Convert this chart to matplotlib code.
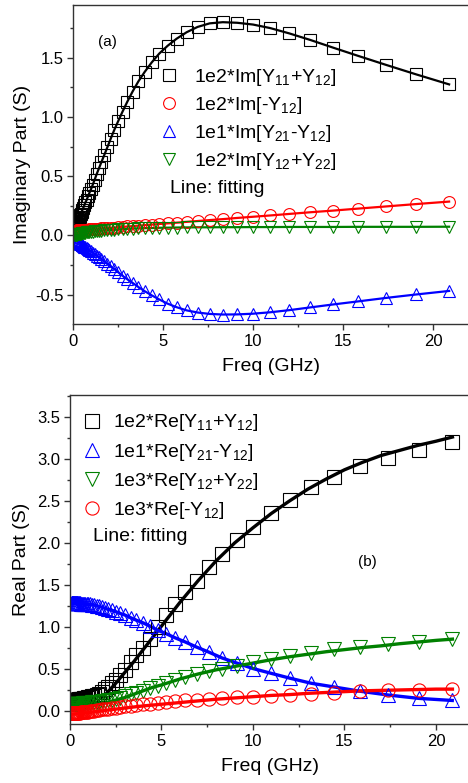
import matplotlib
matplotlib.use('Agg')
import matplotlib.pyplot as plt
from matplotlib.lines import Line2D
from matplotlib.ticker import MultipleLocator

plt.rcParams['font.family'] = ['Liberation Sans', 'DejaVu Sans']
plt.rcParams['mathtext.default'] = 'regular'
plt.rcParams['axes.unicode_minus'] = False

# ---------------- data ----------------
# measurement frequencies (GHz), log spaced
freq = [0.100, 0.110, 0.120, 0.132, 0.145, 0.158, 0.174, 0.191, 0.209, 0.229,
        0.251, 0.275, 0.302, 0.331, 0.363, 0.398, 0.437, 0.479, 0.525, 0.575,
        0.631, 0.692, 0.759, 0.832, 0.912,
        1.00, 1.10, 1.20, 1.32, 1.45, 1.58, 1.74, 1.91, 2.09, 2.29,
        2.51, 2.75, 3.02, 3.31, 3.63, 3.98, 4.37, 4.79, 5.25, 5.75,
        6.31, 6.92, 7.59, 8.32, 9.12,
        10.0, 10.96, 12.02, 13.18, 14.45, 15.85, 17.38, 19.05, 20.89]

# (a) imaginary parts
im_y11_y12 = [0.060, 0.060, 0.065, 0.070, 0.075, 0.080, 0.085, 0.090, 0.100, 0.105,
              0.115, 0.125, 0.135, 0.145, 0.160, 0.170, 0.185, 0.200, 0.215, 0.235,
              0.255, 0.280, 0.300, 0.330, 0.360,
              0.390, 0.430, 0.470, 0.520, 0.570, 0.620, 0.680, 0.745, 0.815, 0.890,
              0.965, 1.045, 1.130, 1.215, 1.300, 1.380, 1.460, 1.535, 1.600, 1.660,
              1.715, 1.760, 1.790, 1.800, 1.795,
              1.780, 1.750, 1.705, 1.650, 1.585, 1.515, 1.440, 1.360, 1.275]
im_neg_y12 = [0.041, 0.041, 0.041, 0.042, 0.042, 0.042, 0.042, 0.042, 0.042, 0.043,
              0.043, 0.043, 0.044, 0.044, 0.044, 0.045, 0.045, 0.046, 0.046, 0.047,
              0.047, 0.048, 0.049, 0.050, 0.051,
              0.052, 0.053, 0.054, 0.056, 0.057, 0.059, 0.061, 0.063, 0.065, 0.067,
              0.070, 0.072, 0.076, 0.079, 0.083, 0.087, 0.092, 0.097, 0.102, 0.108,
              0.115, 0.122, 0.130, 0.138, 0.148,
              0.158, 0.169, 0.182, 0.196, 0.210, 0.227, 0.245, 0.265, 0.286]
im_y21_y12 = [-0.040, -0.040, -0.041, -0.042, -0.043, -0.045, -0.046, -0.048, -0.050, -0.052,
              -0.054, -0.056, -0.059, -0.062, -0.065, -0.069, -0.073, -0.077, -0.082, -0.087,
              -0.093, -0.100, -0.107, -0.115, -0.124,
              -0.134, -0.145, -0.156, -0.170, -0.185, -0.200, -0.218, -0.238, -0.260, -0.283,
              -0.310, -0.340, -0.370, -0.400, -0.435, -0.470, -0.505, -0.540, -0.575, -0.605,
              -0.632, -0.650, -0.662, -0.667, -0.666,
              -0.660, -0.648, -0.630, -0.607, -0.582, -0.556, -0.527, -0.498, -0.468]
im_y12_y22 = [0.004, 0.004, 0.005, 0.005, 0.006, 0.006, 0.007, 0.007, 0.008, 0.009,
              0.010, 0.011, 0.012, 0.013, 0.014, 0.015, 0.016, 0.017, 0.019, 0.020,
              0.022, 0.024, 0.026, 0.028, 0.029,
              0.031, 0.033, 0.035, 0.037, 0.039, 0.041, 0.043, 0.045, 0.047, 0.049,
              0.051, 0.053, 0.056, 0.058, 0.060, 0.062, 0.063, 0.065, 0.066, 0.067,
              0.068, 0.069, 0.069, 0.070, 0.070,
              0.071, 0.071, 0.072, 0.072, 0.072, 0.073, 0.073, 0.073, 0.074]

# (b) real parts
re_y11_y12 = [0.130, 0.130, 0.130, 0.130, 0.130, 0.130, 0.130, 0.130, 0.130, 0.130,
              0.130, 0.130, 0.130, 0.131, 0.132, 0.133, 0.135, 0.137, 0.139, 0.141,
              0.144, 0.147, 0.150, 0.154, 0.158,
              0.163, 0.168, 0.175, 0.183, 0.193, 0.205, 0.230, 0.260, 0.290, 0.330,
              0.370, 0.430, 0.490, 0.580, 0.670, 0.750, 0.860, 1.000, 1.140, 1.270,
              1.410, 1.550, 1.710, 1.870, 2.030,
              2.190, 2.350, 2.510, 2.660, 2.790, 2.910, 3.010, 3.110, 3.200]
re_y21_y12 = [1.280, 1.280, 1.280, 1.280, 1.280, 1.280, 1.280, 1.280, 1.280, 1.280,
              1.280, 1.280, 1.280, 1.280, 1.280, 1.280, 1.279, 1.279, 1.279, 1.278,
              1.277, 1.276, 1.275, 1.274, 1.273,
              1.272, 1.270, 1.265, 1.260, 1.253, 1.245, 1.235, 1.222, 1.210, 1.198,
              1.180, 1.160, 1.140, 1.110, 1.080, 1.050, 1.010, 0.960, 0.920, 0.870,
              0.820, 0.760, 0.700, 0.630, 0.570,
              0.505, 0.450, 0.390, 0.330, 0.285, 0.235, 0.190, 0.150, 0.125]
re_y12_y22 = [0.080, 0.080, 0.080, 0.080, 0.080, 0.080, 0.080, 0.080, 0.080, 0.080,
              0.080, 0.081, 0.081, 0.081, 0.082, 0.082, 0.083, 0.084, 0.085, 0.086,
              0.087, 0.089, 0.090, 0.092, 0.094,
              0.096, 0.098, 0.101, 0.104, 0.107, 0.111, 0.116, 0.121, 0.127, 0.134,
              0.145, 0.160, 0.177, 0.197, 0.218, 0.240, 0.268, 0.297, 0.330, 0.367,
              0.400, 0.438, 0.470, 0.500, 0.530,
              0.585, 0.620, 0.655, 0.690, 0.735, 0.765, 0.800, 0.825, 0.860]
re_neg_y12 = [-0.020, -0.020, -0.020, -0.020, -0.020, -0.020, -0.020, -0.020, -0.020, -0.020,
              -0.020, -0.020, -0.020, -0.020, -0.020, -0.020, -0.020, -0.020, -0.019, -0.018,
              -0.017, -0.015, -0.013, -0.011, -0.009,
              -0.007, -0.004, 0.000, 0.004, 0.008, 0.013, 0.018, 0.023, 0.028, 0.034,
              0.040, 0.047, 0.054, 0.062, 0.070, 0.078, 0.087, 0.096, 0.105, 0.115,
              0.125, 0.135, 0.145, 0.155, 0.165,
              0.172, 0.182, 0.195, 0.207, 0.218, 0.240, 0.250, 0.255, 0.260]

# fitted curves for panel (b)
fit_freq = [0.0, 0.5, 1.0, 1.5, 1.8, 2.0, 2.5, 3.0, 3.5, 4.0, 4.5, 5.0, 5.5, 6.0, 6.5,
            7.0, 7.5, 8.0, 9.0, 10.0, 11.0, 12.0, 13.0, 14.0, 15.0, 16.0, 17.0,
            18.0, 19.0, 20.0, 20.9]
fit_y11_y12 = [None, None, None, None, 0.17, 0.21, 0.33, 0.46, 0.59, 0.73, 0.87, 1.01,
               1.15, 1.29, 1.42, 1.55, 1.67, 1.79, 2.00, 2.18, 2.35, 2.50, 2.64, 2.76,
               2.87, 2.96, 3.04, 3.10, 3.16, 3.21, 3.26]
fit_y12_y22 = [0.050, 0.055, 0.065, 0.080, 0.090, 0.100, 0.130, 0.160, 0.200, 0.240,
               0.280, 0.310, 0.345, 0.380, 0.410, 0.440, 0.465, 0.490, 0.530, 0.570,
               0.610, 0.645, 0.675, 0.705, 0.730, 0.755, 0.775, 0.800, 0.820, 0.840,
               0.855]
fit_neg_y12 = [-0.040, -0.030, -0.020, -0.005, 0.003, 0.010, 0.022, 0.035, 0.048, 0.060,
               0.070, 0.080, 0.090, 0.100, 0.110, 0.120, 0.130, 0.140, 0.155, 0.170,
               0.185, 0.195, 0.210, 0.220, 0.230, 0.240, 0.245, 0.250, 0.255, 0.260,
               0.260]

GREEN = '#008000'

fig = plt.figure(figsize=(4.68, 7.83), dpi=100)
W, H = 468.0, 783.0
ax1 = fig.add_axes([73 / W, 1 - 324 / H, 397 / W, 319 / H])
ax2 = fig.add_axes([70 / W, 1 - 724 / H, 400 / W, 329 / H])


def style_axes(ax):
    for side in ['top', 'bottom', 'left', 'right']:
        ax.spines[side].set_color('#333333')
        ax.spines[side].set_linewidth(1.0)
    ax.xaxis.set_major_locator(MultipleLocator(5))
    ax.xaxis.set_minor_locator(MultipleLocator(2.5))
    ax.yaxis.set_major_locator(MultipleLocator(0.5))
    ax.yaxis.set_minor_locator(MultipleLocator(0.25))
    ax.tick_params(which='major', direction='out', length=4, width=1,
                   color='#333333', labelsize=12, pad=3)
    ax.tick_params(which='minor', direction='out', length=2.5, width=1,
                   color='#333333')
    ax.set_xlabel('Freq (GHz)', fontsize=14, labelpad=7)


mk_a = dict(linestyle='none', markerfacecolor='none', markeredgewidth=0.8,
            markersize=8.5)
mk_b = dict(linestyle='none', markerfacecolor='none', markeredgewidth=0.8,
            markersize=9.5)

# ---------- (a) imaginary part ----------
ax1.plot(freq, im_y11_y12, color='k', lw=1.6)
ax1.plot(freq, im_neg_y12, color='red', lw=1.6)
ax1.plot(freq, im_y21_y12, color='blue', lw=1.6)
ax1.plot(freq, im_y12_y22, color=GREEN, lw=1.6)
ax1.plot(freq, im_y11_y12, marker='s', markeredgecolor='k', **mk_a)
ax1.plot(freq, im_neg_y12, marker='o', markeredgecolor='red', **mk_a)
ax1.plot(freq, im_y21_y12, marker='^', markeredgecolor='blue', **mk_a)
ax1.plot(freq, im_y12_y22, marker='v', markeredgecolor=GREEN, **mk_a)

ax1.set_xlim(0, 22.05)
ax1.set_ylim(-0.747, 1.945)
style_axes(ax1)
ax1.set_ylabel('Imaginary Part (S)', fontsize=14)
ax1.yaxis.set_label_coords(-0.106, 0.5)

hnd_a = [Line2D([], [], marker='s', markeredgecolor='k', **mk_a),
         Line2D([], [], marker='o', markeredgecolor='red', **mk_a),
         Line2D([], [], marker='^', markeredgecolor='blue', **mk_a),
         Line2D([], [], marker='v', markeredgecolor=GREEN, **mk_a)]
lab_a = ['1e2*Im[Y$_{11}$+Y$_{12}$]', '1e2*Im[-Y$_{12}$]',
         '1e1*Im[Y$_{21}$-Y$_{12}$]', '1e2*Im[Y$_{12}$+Y$_{22}$]']
ax1.legend(hnd_a, lab_a, loc='upper left', bbox_to_anchor=(0.218, 0.805),
           frameon=False, fontsize=14, handlelength=1.0, handletextpad=0.75,
           labelspacing=0.35, borderaxespad=0, borderpad=0)
ax1.text(0.244, 0.426, 'Line: fitting', transform=ax1.transAxes,
         fontsize=14, va='center', ha='left')
ax1.text(0.088, 0.884, '(a)', transform=ax1.transAxes, fontsize=11,
         va='center', ha='center')

# ---------- (b) real part ----------
ax2.plot(fit_freq, fit_y11_y12, color='k', lw=2.4)
ax2.plot(freq, re_y21_y12, color='blue', lw=2.4)
ax2.plot(fit_freq, fit_y12_y22, color=GREEN, lw=2.4)
ax2.plot(fit_freq, fit_neg_y12, color='red', lw=2.4)
ax2.plot(freq, re_y11_y12, marker='s', markeredgecolor='k', **mk_b)
ax2.plot(freq, re_y21_y12, marker='^', markeredgecolor='blue', **mk_b)
ax2.plot(freq, re_y12_y22, marker='v', markeredgecolor=GREEN, **mk_b)
ax2.plot(freq, re_neg_y12, marker='o', markeredgecolor='red', **mk_b)

ax2.set_xlim(0, 21.86)
ax2.set_ylim(-0.155, 3.76)
style_axes(ax2)
ax2.set_ylabel('Real Part (S)', fontsize=14)
ax2.yaxis.set_label_coords(-0.10, 0.5)

hnd_b = [Line2D([], [], marker='s', markeredgecolor='k', **mk_b),
         Line2D([], [], marker='^', markeredgecolor='blue', **mk_b),
         Line2D([], [], marker='v', markeredgecolor=GREEN, **mk_b),
         Line2D([], [], marker='o', markeredgecolor='red', **mk_b)]
lab_b = ['1e2*Re[Y$_{11}$+Y$_{12}$]', '1e1*Re[Y$_{21}$-Y$_{12}$]',
         '1e3*Re[Y$_{12}$+Y$_{22}$]', '1e3*Re[-Y$_{12}$]']
ax2.legend(hnd_b, lab_b, loc='upper left', bbox_to_anchor=(0.03, 0.947),
           frameon=False, fontsize=14, handlelength=1.0, handletextpad=0.6,
           labelspacing=0.42, borderaxespad=0, borderpad=0)
ax2.text(0.0575, 0.569, 'Line: fitting', transform=ax2.transAxes,
         fontsize=14, va='center', ha='left')
ax2.text(0.7425, 0.493, '(b)', transform=ax2.transAxes, fontsize=11,
         va='center', ha='center')

fig.savefig('out.png', dpi=100)
